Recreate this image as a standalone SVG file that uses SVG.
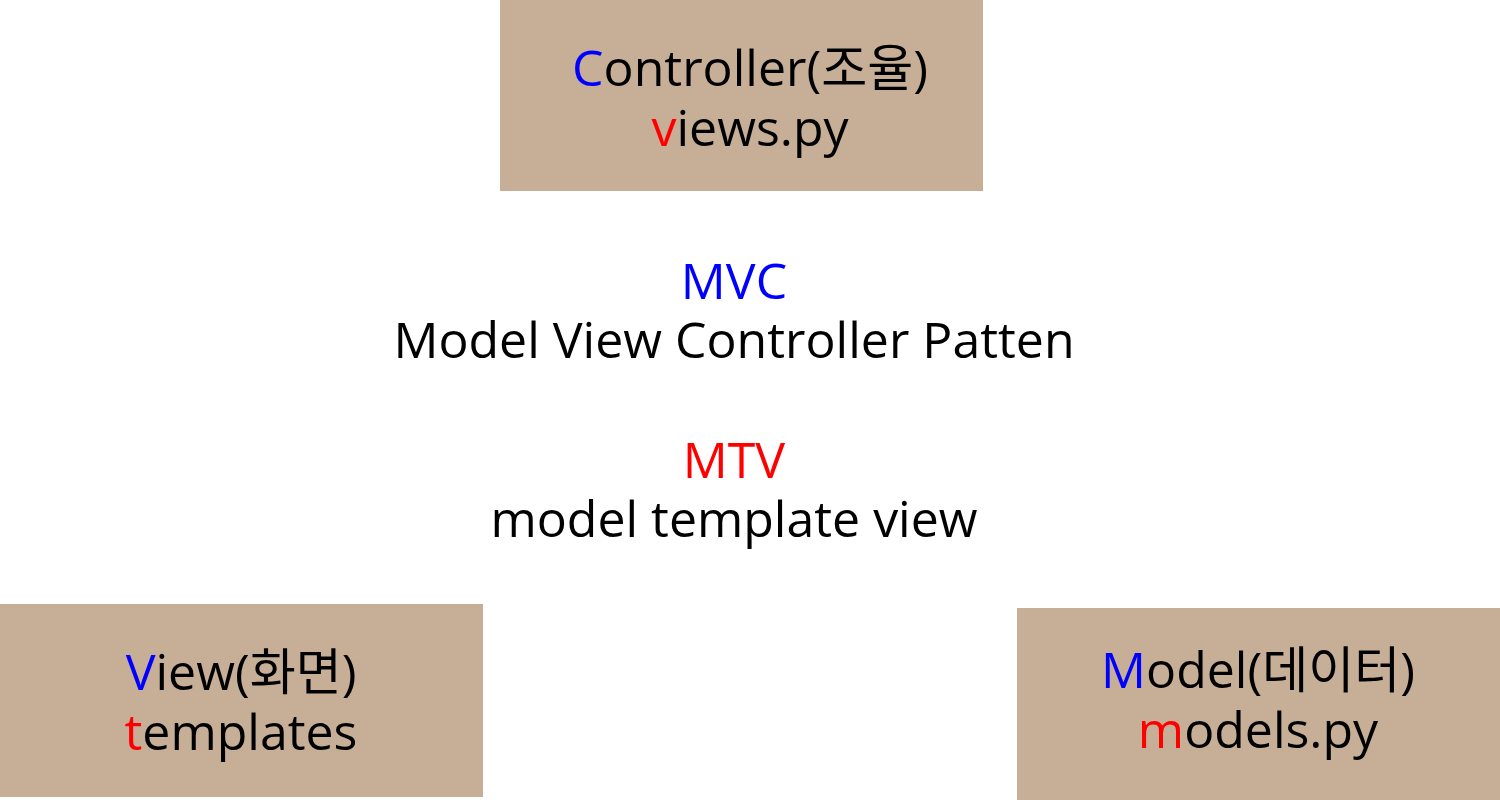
<svg xmlns="http://www.w3.org/2000/svg" width="1500" height="800" viewBox="0 0 1500 800">
<style>
.box{fill:#C7AF97}
.t{font-family:"Open Sans","Noto Sans CJK KR",sans-serif;font-size:50px;fill:#000;text-anchor:middle}
.b{fill:#0000FF}
.r{fill:#FF0000}
</style>
<rect width="1500" height="800" fill="#fff"/>
<g id="controller">
<rect class="box" x="500" y="0" width="483" height="191"/>
<text class="t"><tspan x="750" y="86"><tspan class="b">C</tspan>ontroller(조율)</tspan><tspan x="750" y="146"><tspan class="r">v</tspan>iews.py</tspan></text>
</g>
<g id="view">
<rect class="box" x="0" y="604" width="483" height="193"/>
<text class="t"><tspan x="241" y="690"><tspan class="b">V</tspan>iew(화면)</tspan><tspan x="241" y="750"><tspan class="r">t</tspan>emplates</tspan></text>
</g>
<g id="model">
<rect class="box" x="1017" y="608" width="483" height="192"/>
<text class="t"><tspan x="1258" y="688"><tspan class="b">M</tspan>odel(데이터)</tspan><tspan x="1258" y="748"><tspan class="r">m</tspan>odels.py</tspan></text>
</g>
<g id="mvc">
<text class="t"><tspan class="b" x="734" y="299">MVC</tspan><tspan x="734" y="358">Model View Controller Patten</tspan></text>
</g>
<g id="mtv">
<text class="t"><tspan class="r" x="734" y="478">MTV</tspan><tspan x="734" y="537">model template view</tspan></text>
</g>
<g id="connectors"></g>
</svg>
